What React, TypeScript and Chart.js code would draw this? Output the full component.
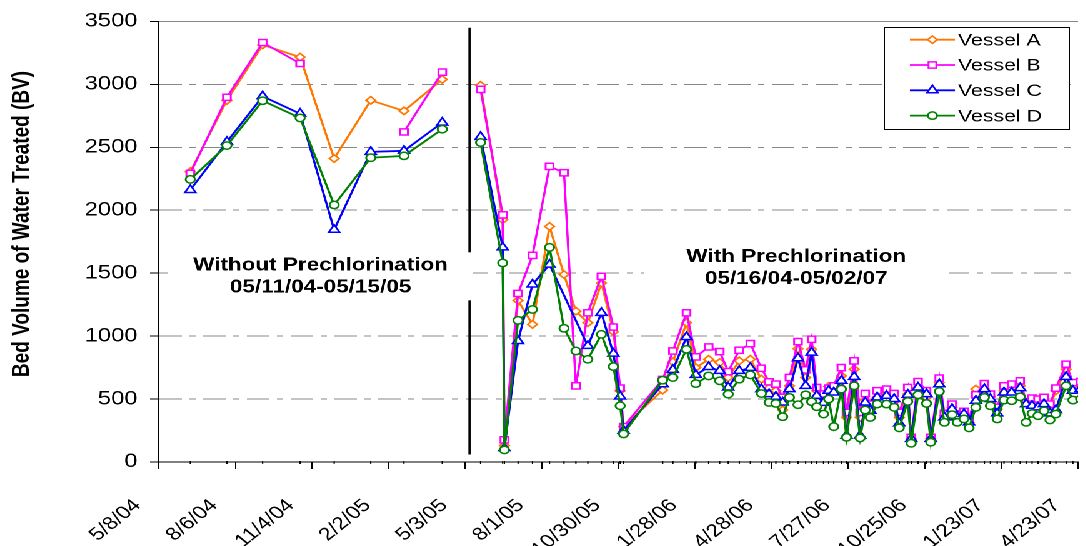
import React, { useEffect, useRef } from 'react';
import { Chart, registerables } from 'chart.js';

Chart.register(...registerables);

const FONT = "'Liberation Sans', Arial, Helvetica, sans-serif";
const STRETCH = 1.25;
const CANVAS_W = 869;
const CANVAS_H = 546;

const BASE_DATE = '2004-05-08';
const X_END_DATE = '2007-04-23';
const X_TICK_STEP_DAYS = 90;
const Y_MIN = 0;
const Y_MAX = 3500;
const Y_STEP = 500;
const Y_TITLE = 'Bed Volume of Water Treated (BV)';

const seriesNames = ['Vessel A', 'Vessel B', 'Vessel C', 'Vessel D'];
const seriesColors = ['#FF7700', '#FF00FF', '#0000FF', '#008000'];
const seriesMarkers = ['rectRot', 'rect', 'triangle', 'circle'];
const seriesMarkerSizes = [3.8, 4.4, 5.0, 3.7];

const sampleDates = [
  '2004-06-14', '2004-07-27', '2004-09-07', '2004-10-21', '2004-11-30', '2005-01-12', '2005-02-20', '2005-04-06',
  '2005-05-21', '2005-06-16', '2005-06-18', '2005-07-04', '2005-07-21', '2005-08-10', '2005-08-27', '2005-09-10',
  '2005-09-24', '2005-10-10', '2005-10-24', '2005-11-01', '2005-11-05',
  '2005-12-21', '2006-01-02', '2006-01-18', '2006-01-29', '2006-02-13', '2006-02-26', '2006-03-08', '2006-03-21',
  '2006-04-03', '2006-04-16', '2006-04-25', '2006-05-03', '2006-05-11', '2006-05-19',
  '2006-05-29', '2006-06-07', '2006-06-14', '2006-06-20', '2006-06-28', '2006-07-04', '2006-07-10', '2006-07-19',
  '2006-07-25', '2006-08-03', '2006-08-10', '2006-08-16', '2006-08-22', '2006-08-30', '2006-09-10', '2006-09-19',
  '2006-09-25', '2006-10-05', '2006-10-09', '2006-10-17', '2006-10-27', '2006-11-01', '2006-11-11', '2006-11-17',
  '2006-11-26', '2006-12-02', '2006-12-10', '2006-12-16', '2006-12-24', '2007-01-03', '2007-01-10', '2007-01-18',
  '2007-01-26', '2007-02-04', '2007-02-14', '2007-02-21', '2007-02-28', '2007-03-07', '2007-03-14', '2007-03-21',
  '2007-03-28', '2007-04-09', '2007-04-17', '2007-04-26',
];

const vesselA = [
  2306, 2873, 3313, 3216, 2411, 2873, 2789, 3039,
  2992, 1924, 130, 1283, 1093, 1871, 1489, 1198, 1106, 1422, 1035, 566, 281,
  571, 795, 1106, 750, 815, 790, 671, 803, 816, 658, 587, 566, 413, 605,
  900, 671, 895, 566, 513, 600, 566, 684, 354, 737, 354, 492, 421, 513, 534, 480, 354, 539, 184, 592, 513, 184,
  631, 368, 434, 354, 376, 315, 579, 579, 520, 420, 566, 580, 605, 473, 470, 460, 473, 440, 566, 737, 605, 620,
];
const vesselB = [
  2293, 2897, 3332, 3166, null, null, 2622, 3097,
  2960, 1963, 176, 1339, 1641, 2348, 2298, 605, 1185, 1475, 1072, 587, 281,
  655, 882, 1185, 835, 914, 877, 718, 888, 940, 745, 637, 619, 513, 671,
  956, 732, 975, 592, 540, 587, 605, 750, 394, 803, 394, 544, 460, 566, 579, 544, 394, 592, 196, 639, 566, 196,
  666, 386, 460, 381, 402, 342, 534, 623, 539, 434, 605, 619, 645, 480, 508, 500, 513, 460, 587, 777, 631, 640,
];
const vesselC = [
  2161, 2543, 2905, 2767, 1845, 2464, 2472, 2696,
  2583, 1705, 110, 961, 1410, 1568, null, null, 922, 1185, 861, 520, 249,
  618, 732, 993, 692, 755, 724, 592, 724, 748, 579, 539, 518, 473, 579,
  824, 605, 869, 526, 470, 566, 552, 645, 210, 676, 210, 473, 407, 513, 526, 500, 307, 534, 184, 592, 539, 184,
  618, 354, 421, 354, 381, 315, 487, 579, 500, 386, 552, 552, 587, 460, 447, 434, 460, 386, 413, 676, 566, 580,
];
const vesselD = [
  2245, 2514, 2870, 2733, 2042, 2417, 2432, 2644,
  2538, 1581, 96, 1125, 1212, 1705, 1062, 882, 816, 1014, 758, 447, 223,
  650, 671, 895, 623, 684, 645, 539, 658, 692, 544, 473, 465, 360, 513,
  455, 534, 479, 439, 381, 500, 281, 579, 196, 605, 191, 413, 354, 460, 460, 434, 271, 481, 149, 534, 465, 157,
  560, 315, 376, 315, 342, 271, 434, 513, 447, 342, 492, 487, 518, 315, 386, 368, 407, 334, 381, 605, 492, 500,
];
const seriesValues = [vesselA, vesselB, vesselC, vesselD];
const seriesSpanGaps = [false, false, true, false];

const DIVIDER_DATE = '2005-05-08';
const DIVIDER_FROM = 60;
const DIVIDER_TO = 3450;

const notes = [
  { lines: ['Without Prechlorination', '05/11/04-05/15/05'], date: '2004-11-14', value: 1475 },
  { lines: ['With Prechlorination', '05/16/04-05/02/07'], date: '2006-05-27', value: 1539 },
];

const DAY_MS = 86400000;
function parseDate(s: string) {
  const [y, m, d] = s.split('-').map(Number);
  return Date.UTC(y, m - 1, d);
}
function dayOf(s: string) {
  return Math.round((parseDate(s) - parseDate(BASE_DATE)) / DAY_MS);
}
function fmtDay(v: number) {
  const dt = new Date(parseDate(BASE_DATE) + v * DAY_MS);
  return `${dt.getUTCMonth() + 1}/${dt.getUTCDate()}/${String(dt.getUTCFullYear()).slice(2)}`;
}

function drawMarker(ctx: CanvasRenderingContext2D, style: string, r: number, x: number, y: number, color: string, bw: number) {
  ctx.save();
  ctx.beginPath();
  if (style === 'circle') {
    ctx.arc(x, y, r, 0, Math.PI * 2);
  } else if (style === 'rect') {
    const s = r * Math.SQRT1_2;
    ctx.rect(x - s, y - s, 2 * s, 2 * s);
  } else if (style === 'rectRot') {
    ctx.moveTo(x - r, y);
    ctx.lineTo(x, y - r);
    ctx.lineTo(x + r, y);
    ctx.lineTo(x, y + r);
    ctx.closePath();
  } else if (style === 'triangle') {
    ctx.moveTo(x, y - r);
    ctx.lineTo(x + 0.866 * r, y + 0.5 * r);
    ctx.lineTo(x - 0.866 * r, y + 0.5 * r);
    ctx.closePath();
  }
  ctx.fillStyle = '#ffffff';
  ctx.fill();
  ctx.lineWidth = bw;
  ctx.strokeStyle = color;
  ctx.stroke();
  ctx.restore();
}

const annotationPlugin = {
  id: 'annotations',
  beforeDatasetsDraw(chart: any) {
    const { ctx, chartArea } = chart;
    const xs = chart.scales.x;
    const ys = chart.scales.y;
    ctx.save();
    // small marks on the date axis at each sampling date
    ctx.strokeStyle = '#000';
    ctx.lineWidth = 1;
    sampleDates.forEach((d) => {
      const px = xs.getPixelForValue(dayOf(d));
      if (px < chartArea.left || px > chartArea.right) return;
      ctx.beginPath();
      ctx.moveTo(px, chartArea.bottom - 1);
      ctx.lineTo(px, chartArea.bottom + 2);
      ctx.stroke();
    });
    // divider line
    const dx = xs.getPixelForValue(dayOf(DIVIDER_DATE));
    ctx.lineWidth = 1.8;
    ctx.beginPath();
    ctx.moveTo(dx, ys.getPixelForValue(DIVIDER_TO));
    ctx.lineTo(dx, ys.getPixelForValue(DIVIDER_FROM));
    ctx.stroke();
    // notes
    notes.forEach((n) => {
      const cx = xs.getPixelForValue(dayOf(n.date));
      const cy = ys.getPixelForValue(n.value);
      ctx.fillStyle = '#ffffff';
      ctx.fillRect(cx - 122, cy - 24, 244, 48);
      ctx.fillStyle = '#000';
      ctx.font = `bold 18px ${FONT}`;
      ctx.textAlign = 'center';
      ctx.textBaseline = 'middle';
      n.lines.forEach((t, i) => ctx.fillText(t, cx, cy - 11 + i * 22));
    });
    ctx.restore();
  },
  afterDraw(chart: any) {
    const { ctx } = chart;
    ctx.save();
    // y axis title
    ctx.translate(18, 224);
    ctx.rotate(-Math.PI / 2);
    ctx.fillStyle = '#000';
    ctx.font = `bold 19px ${FONT}`;
    ctx.textAlign = 'center';
    ctx.textBaseline = 'middle';
    ctx.fillText(Y_TITLE, 0, 0);
    ctx.restore();

    // legend
    ctx.save();
    const w = 148;
    const h = 102;
    const x0 = chart.width - 14 - w;
    const y0 = chart.chartArea.top + 6;
    ctx.fillStyle = '#fff';
    ctx.fillRect(x0, y0, w, h);
    ctx.strokeStyle = '#000';
    ctx.lineWidth = 1;
    ctx.strokeRect(Math.round(x0) + 0.5, Math.round(y0) + 0.5, w, h);
    chart.data.datasets.forEach((ds: any, i: number) => {
      const cy = y0 + 12.3 + i * 25.3;
      ctx.strokeStyle = ds.borderColor;
      ctx.lineWidth = 1.8;
      ctx.beginPath();
      ctx.moveTo(x0 + 21, cy);
      ctx.lineTo(x0 + 57, cy);
      ctx.stroke();
      drawMarker(ctx, ds.pointStyle, ds.pointRadius, x0 + 39, cy, ds.borderColor, 1.5);
      ctx.fillStyle = '#000';
      ctx.font = `17px ${FONT}`;
      ctx.textAlign = 'left';
      ctx.textBaseline = 'middle';
      ctx.fillText(ds.label, x0 + 59.5, cy + 1);
    });
    ctx.restore();
  },
};

export default function App() {
  const ref = useRef<HTMLCanvasElement>(null);
  useEffect(() => {
    document.body.style.margin = '0';
    const dividerDay = dayOf(DIVIDER_DATE);
    const datasets = seriesNames.map((name, i) => ({
      label: name,
      data: sampleDates.map((d, j) => ({ x: dayOf(d), y: seriesValues[i][j] })),
      borderColor: seriesColors[i],
      backgroundColor: seriesColors[i],
      borderWidth: 1.8,
      pointStyle: seriesMarkers[i],
      pointRadius: seriesMarkerSizes[i],
      pointBorderWidth: 1.5,
      pointBorderColor: seriesColors[i],
      pointBackgroundColor: '#ffffff',
      tension: 0,
      spanGaps: seriesSpanGaps[i],
      order: seriesNames.length - i,
      segment: {
        borderColor: (c: any) =>
          c.p0.parsed.x < dividerDay && c.p1.parsed.x > dividerDay ? 'rgba(0,0,0,0)' : undefined,
      },
    }));
    const chart = new Chart(ref.current as HTMLCanvasElement, {
      type: 'line',
      data: { datasets } as any,
      options: {
        animation: false,
        responsive: false,
        devicePixelRatio: 2,
        events: [],
        layout: { padding: { top: 19, right: 0, left: 0, bottom: 0 } },
        plugins: { legend: { display: false }, tooltip: { enabled: false } },
        scales: {
          x: {
            type: 'linear',
            min: 0,
            max: dayOf(X_END_DATE),
            ticks: {
              stepSize: X_TICK_STEP_DAYS,
              includeBounds: false,
              autoSkip: false,
              minRotation: 45,
              maxRotation: 45,
              color: '#000',
              font: { size: 18, family: FONT },
              padding: 26,
              labelOffset: -17,
              callback: (v: any) => fmtDay(Number(v)),
            },
            grid: { display: true, drawOnChartArea: false, drawTicks: true, tickLength: 7, tickColor: '#000', tickWidth: 1 },
            border: { display: true, color: '#000', width: 1 },
            afterFit: (s: any) => {
              s.height = 84;
              s.paddingLeft = 0;
              s.paddingRight = 0;
            },
          },
          y: {
            min: Y_MIN,
            max: Y_MAX,
            ticks: {
              stepSize: Y_STEP,
              color: '#000',
              font: { size: 19, family: FONT },
              padding: 10,
              callback: (v: any) => String(v),
            },
            grid: {
              color: (c: any) => (c.tick && c.tick.value === Y_MIN ? 'rgba(0,0,0,0)' : '#888888'),
              lineWidth: 1,
              drawTicks: true,
              tickLength: 7,
              tickColor: '#000',
              tickWidth: 1,
            },
            border: {
              display: true,
              color: '#000',
              width: 1,
              dash: (c: any) => (!c.tick || c.tick.value === Y_MAX ? [] : [18, 6, 5, 6]),
            },
            afterFit: (s: any) => {
              s.width = 127;
            },
          },
        },
      } as any,
      plugins: [annotationPlugin],
    });
    return () => chart.destroy();
  }, []);
  return (
    <div
      style={{
        width: CANVAS_W,
        height: CANVAS_H,
        transform: `scaleX(${STRETCH})`,
        transformOrigin: '0 0',
        background: '#fff',
      }}
    >
      <canvas ref={ref} width={CANVAS_W} height={CANVAS_H} style={{ display: 'block' }} />
    </div>
  );
}
